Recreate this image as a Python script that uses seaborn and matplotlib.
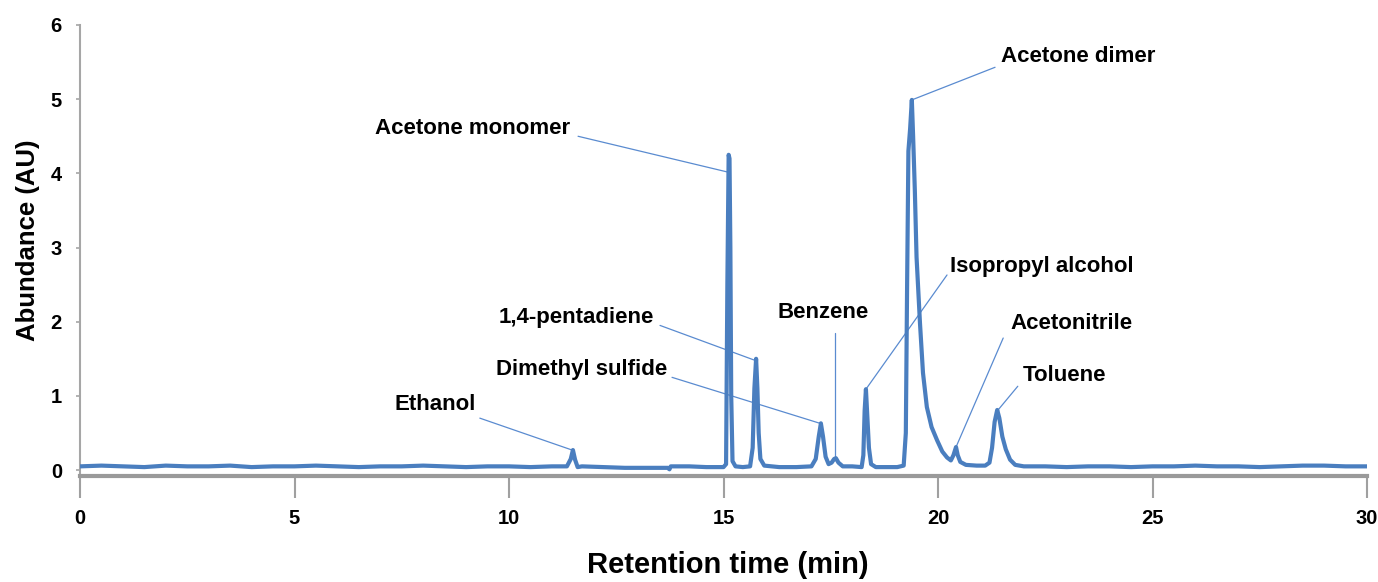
import matplotlib
matplotlib.use('Agg')
import matplotlib.pyplot as plt
import seaborn as sns
import pandas as pd

# ---- data ----
retention_time = [
    0.0, 0.5, 1.0, 1.5, 2.0, 2.5, 3.0, 3.5, 4.0, 4.5, 5.0, 5.5, 6.0, 6.5, 7.0,
    7.5, 8.0, 8.5, 9.0, 9.5, 10.0, 10.5, 11.0, 11.35, 11.44, 11.49, 11.54, 11.6,
    11.7, 12.2, 12.7, 13.2, 13.7, 13.74, 13.77, 14.2, 14.6, 15.0, 15.06, 15.09,
    15.12, 15.14, 15.16, 15.18, 15.21, 15.28, 15.45, 15.62, 15.68, 15.72, 15.76,
    15.79, 15.82, 15.86, 15.95, 16.3, 16.7, 17.05, 17.15, 17.22, 17.27, 17.32,
    17.38, 17.45, 17.52, 17.58, 17.62, 17.68, 17.78, 18.0, 18.22, 18.26, 18.29,
    18.32, 18.35, 18.39, 18.44, 18.55, 18.8, 19.05, 19.2, 19.25, 19.28, 19.31,
    19.35, 19.39, 19.42, 19.46, 19.5, 19.58, 19.65, 19.74, 19.85, 19.98, 20.1,
    20.21, 20.3, 20.36, 20.42, 20.46, 20.52, 20.65, 20.9, 21.1, 21.2, 21.26,
    21.32, 21.38, 21.43, 21.5, 21.58, 21.68, 21.8, 22.0, 22.5, 23.0, 23.5, 24.0,
    24.5, 25.0, 25.5, 26.0, 26.5, 27.0, 27.5, 28.0, 28.5, 29.0, 29.5, 30.0,
]
abundance = [
    0.05, 0.06, 0.05, 0.04, 0.06, 0.05, 0.05, 0.06, 0.04, 0.05, 0.05, 0.06, 0.05,
    0.04, 0.05, 0.05, 0.06, 0.05, 0.04, 0.05, 0.05, 0.04, 0.05, 0.05, 0.15, 0.27,
    0.14, 0.04, 0.05, 0.04, 0.03, 0.03, 0.03, 0.01, 0.05, 0.05, 0.04, 0.04, 0.08,
    2.5, 4.25, 4.2, 3.0, 1.0, 0.12, 0.05, 0.04, 0.05, 0.3, 1.1, 1.5, 1.1, 0.5,
    0.15, 0.06, 0.04, 0.04, 0.05, 0.15, 0.45, 0.63, 0.45, 0.18, 0.08, 0.1, 0.15,
    0.16, 0.1, 0.05, 0.05, 0.04, 0.2, 0.8, 1.09, 0.75, 0.3, 0.08, 0.04, 0.04,
    0.04, 0.06, 0.5, 2.5, 4.3, 4.6, 4.99, 4.5, 3.77, 2.87, 1.98, 1.31, 0.85,
    0.58, 0.4, 0.25, 0.17, 0.13, 0.2, 0.31, 0.2, 0.11, 0.07, 0.06, 0.06, 0.1,
    0.3, 0.65, 0.81, 0.7, 0.45, 0.28, 0.14, 0.07, 0.05, 0.05, 0.04, 0.05, 0.05,
    0.04, 0.05, 0.05, 0.06, 0.05, 0.05, 0.04, 0.05, 0.06, 0.06, 0.05, 0.05,
]

compounds = ["Acetone monomer", "Acetone dimer", "Isopropyl alcohol", "Benzene",
             "1,4-pentadiene", "Dimethyl sulfide", "Ethanol", "Acetonitrile", "Toluene"]
peak_time = [15.08, 19.39, 18.32, 17.60, 15.73, 17.25, 11.47, 20.42, 21.40]
peak_abundance = [4.02, 4.99, 1.09, 0.13, 1.48, 0.63, 0.27, 0.31, 0.81]

x_ticks = [0, 5, 10, 15, 20, 25, 30]
y_ticks = [0, 1, 2, 3, 4, 5, 6]

# ---- layout (label placement) ----
label_xy = [(9.14, 4.61), (23.26, 5.57), (22.42, 2.74), (17.32, 2.12),
            (11.56, 2.06), (11.70, 1.36), (8.28, 0.89), (23.12, 1.98), (22.94, 1.27)]
leader_start = [(11.61, 4.50), (21.33, 5.43), (20.21, 2.63), (17.60, 1.85),
                (13.52, 1.95), (13.80, 1.25), (9.32, 0.70), (21.52, 1.78), (21.86, 1.13)]

sns.set_style('white')
plt.rcParams['font.family'] = ['Liberation Sans', 'DejaVu Sans']
plt.rcParams['text.color'] = 'black'
plt.rcParams['xtick.color'] = 'black'
plt.rcParams['ytick.color'] = 'black'

W, H = 1378, 582
fig = plt.figure(figsize=(W / 100, H / 100), dpi=100)
ax = fig.add_axes([80 / W, 1 - 476 / H, (1367 - 80) / W, (476 - 25) / H])

df = pd.DataFrame({"Retention time (min)": retention_time, "Abundance (AU)": abundance})
sns.lineplot(data=df, x="Retention time (min)", y="Abundance (AU)", ax=ax,
             color="#4A7EBF", linewidth=3.0, sort=False, zorder=3)

line_col = "#5A8BD0"
for name, px, py, (tx, ty), (sx, sy) in zip(compounds, peak_time, peak_abundance,
                                             label_xy, leader_start):
    ax.plot([sx, px], [sy, py], color=line_col, linewidth=0.9, zorder=2)
    ax.text(tx, ty, name, ha="center", va="center", fontsize=16,
            fontweight="bold", color="black")

ax.set_xlim(0, 30)
ax.set_ylim(-0.08, 6)
ax.set_xticks(x_ticks)
ax.set_yticks(y_ticks)
ax.set_xlabel("")
ax.set_ylabel("")

for s in ["top", "right"]:
    ax.spines[s].set_visible(False)
ax.spines["left"].set_color("#A6A6A6")
ax.spines["left"].set_linewidth(1.5)
ax.spines["bottom"].set_color("#9A9A9A")
ax.spines["bottom"].set_linewidth(3)

ax.tick_params(axis="x", bottom=True, direction="out", length=16, width=1.5,
               color="#A0A0A0", labelcolor="black", labelsize=14.5, pad=8)
ax.tick_params(axis="y", left=True, direction="out", length=3, width=1.2,
               color="#A6A6A6", labelcolor="black", labelsize=14.5, pad=10)
for lab in ax.get_xticklabels() + ax.get_yticklabels():
    lab.set_fontweight("bold")

fig.text(728 / W, 1 - 565 / H, "Retention time (min)", ha="center", va="center",
         fontsize=21, fontweight="bold", color="black")
fig.text(28 / W, 1 - 240 / H, "Abundance (AU)", ha="center", va="center",
         rotation=90, fontsize=18.5, fontweight="bold", color="black")

fig.savefig("out.png", dpi=100, facecolor="white")
